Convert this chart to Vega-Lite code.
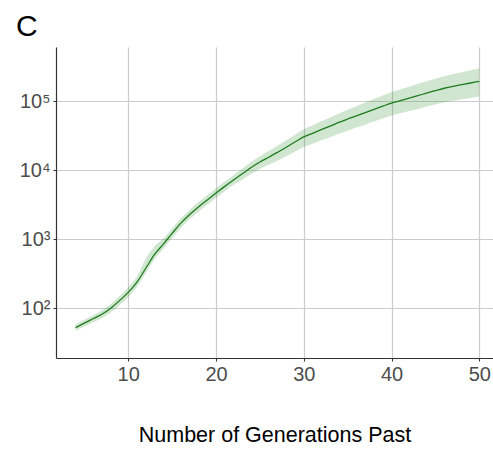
{
  "$schema": "https://vega.github.io/schema/vega-lite/v6.json",
  "autosize": "none",
  "padding": {"left": 56, "top": 47, "right": 0, "bottom": 92},
  "width": 437,
  "height": 311,
  "background": "white",
  "title": {
    "text": "C",
    "anchor": "start",
    "frame": "group",
    "fontSize": 30,
    "font": "Liberation Sans",
    "fontWeight": "normal",
    "color": "#000000",
    "dx": -40,
    "offset": 5
  },
  "config": {
    "view": {"stroke": null},
    "font": "Liberation Sans"
  },
  "data": {
    "values": [
      {"gen": 4, "y": 52.5, "lo": 47.3, "hi": 58.2},
      {"gen": 5, "y": 61.0, "lo": 54.3, "hi": 68.4},
      {"gen": 6, "y": 70.5, "lo": 62.8, "hi": 79.1},
      {"gen": 7, "y": 81.7, "lo": 71.9, "hi": 92.7},
      {"gen": 8, "y": 100, "lo": 87.1, "hi": 114.8},
      {"gen": 9, "y": 128.8, "lo": 110.9, "hi": 149.6},
      {"gen": 10, "y": 169.8, "lo": 144.5, "hi": 199.5},
      {"gen": 11, "y": 239.9, "lo": 204.2, "hi": 288.4},
      {"gen": 12, "y": 380.2, "lo": 323.6, "hi": 524.8},
      {"gen": 13, "y": 602.6, "lo": 512.9, "hi": 794.3},
      {"gen": 14, "y": 851.1, "lo": 724.4, "hi": 1023},
      {"gen": 15, "y": 1216, "lo": 1035, "hi": 1429},
      {"gen": 16, "y": 1718, "lo": 1462, "hi": 2018},
      {"gen": 17, "y": 2291, "lo": 1950, "hi": 2692},
      {"gen": 18, "y": 2951, "lo": 2512, "hi": 3467},
      {"gen": 19, "y": 3715, "lo": 3162, "hi": 4365},
      {"gen": 20, "y": 4677, "lo": 3981, "hi": 5495},
      {"gen": 21, "y": 5848, "lo": 4977, "hi": 6871},
      {"gen": 22, "y": 7244, "lo": 6166, "hi": 8511},
      {"gen": 23, "y": 8913, "lo": 7328, "hi": 10593},
      {"gen": 24, "y": 10965, "lo": 8810, "hi": 13183},
      {"gen": 25, "y": 13183, "lo": 10471, "hi": 16032},
      {"gen": 26, "y": 15488, "lo": 12023, "hi": 19055},
      {"gen": 27, "y": 18197, "lo": 13804, "hi": 22646},
      {"gen": 28, "y": 21627, "lo": 16032, "hi": 27227},
      {"gen": 29, "y": 25704, "lo": 18621, "hi": 32734},
      {"gen": 30, "y": 30549, "lo": 21878, "hi": 39355},
      {"gen": 31, "y": 34356, "lo": 24322, "hi": 44771},
      {"gen": 32, "y": 38905, "lo": 27227, "hi": 51286},
      {"gen": 33, "y": 43652, "lo": 30200, "hi": 58210},
      {"gen": 34, "y": 49545, "lo": 33884, "hi": 66834},
      {"gen": 35, "y": 55463, "lo": 37497, "hi": 75683},
      {"gen": 36, "y": 61660, "lo": 41687, "hi": 85114},
      {"gen": 37, "y": 68707, "lo": 45920, "hi": 95940},
      {"gen": 38, "y": 76560, "lo": 51170, "hi": 108143},
      {"gen": 39, "y": 85114, "lo": 56234, "hi": 121619},
      {"gen": 40, "y": 94406, "lo": 62373, "hi": 136458},
      {"gen": 41, "y": 102329, "lo": 66988, "hi": 148936},
      {"gen": 42, "y": 111429, "lo": 72277, "hi": 162930},
      {"gen": 43, "y": 121060, "lo": 77804, "hi": 177828},
      {"gen": 44, "y": 131826, "lo": 83946, "hi": 194984},
      {"gen": 45, "y": 142889, "lo": 90157, "hi": 212324},
      {"gen": 46, "y": 154882, "lo": 96828, "hi": 231739},
      {"gen": 47, "y": 165196, "lo": 102329, "hi": 248313},
      {"gen": 48, "y": 174582, "lo": 107152, "hi": 264850},
      {"gen": 49, "y": 184502, "lo": 112202, "hi": 282488},
      {"gen": 50, "y": 194984, "lo": 117490, "hi": 298538}
    ]
  },
  "encoding": {
    "x": {
      "field": "gen",
      "type": "quantitative",
      "scale": {"domain": [1.77, 51.56], "nice": false, "zero": false},
      "axis": {
        "values": [10, 20, 30, 40, 50],
        "title": "Number of Generations Past",
        "titleFontSize": 21.5,
        "titleFontWeight": "normal",
        "titleColor": "#000000",
        "titlePadding": 40,
        "labelFontSize": 20,
        "labelColor": "#4d4d4d",
        "labelPadding": 3,
        "tickSize": 3,
        "tickColor": "#333333",
        "domainColor": "#333333",
        "domainWidth": 1.2,
        "grid": true,
        "gridColor": "#cccccc",
        "gridWidth": 1.2
      }
    }
  },
  "layer": [
    {
      "mark": {"type": "area", "color": "#2e8b2e", "opacity": 0.22, "interpolate": "monotone"},
      "encoding": {
        "y": {
          "field": "lo",
          "type": "quantitative",
          "scale": {"type": "log", "domain": [19, 614000], "nice": false, "zero": false},
          "axis": {
            "values": [100, 1000, 10000, 100000],
            "labelExpr": "datum.value == 100 ? '10²' : datum.value == 1000 ? '10³' : datum.value == 10000 ? '10⁴' : '10⁵'",
            "title": null,
            "labelFontSize": 20,
            "labelColor": "#4d4d4d",
            "labelPadding": 3,
            "tickSize": 3,
            "tickColor": "#333333",
            "domainColor": "#333333",
            "domainWidth": 1.2,
            "grid": true,
            "gridColor": "#cccccc",
            "gridWidth": 1.2
          }
        },
        "y2": {"field": "hi"}
      }
    },
    {
      "mark": {"type": "line", "color": "#1e7b1e", "strokeWidth": 1.3, "interpolate": "monotone"},
      "encoding": {
        "y": {"field": "y", "type": "quantitative"}
      }
    }
  ]
}
